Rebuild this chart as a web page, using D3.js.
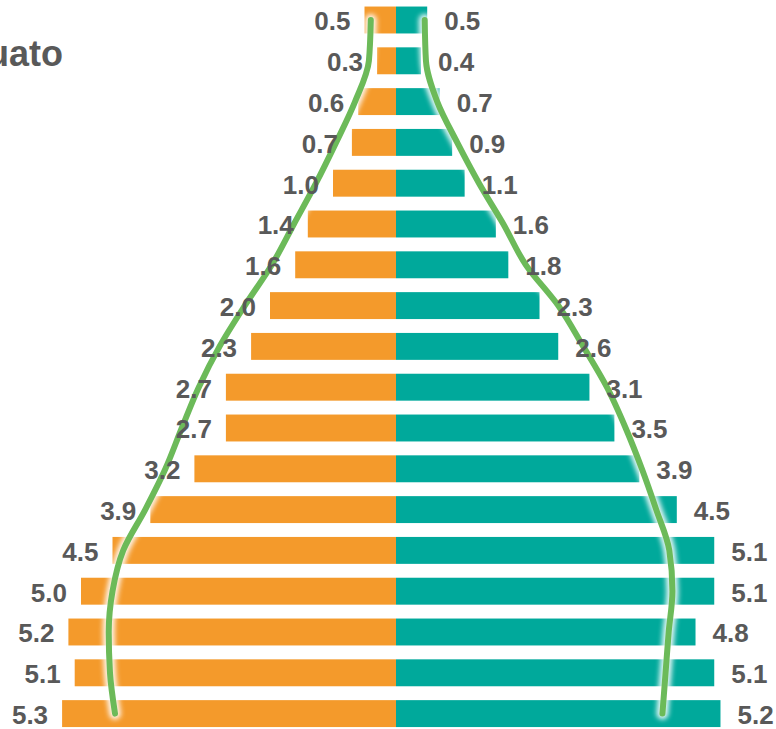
<!DOCTYPE html>
<html>
<head>
<meta charset="utf-8">
<script src="https://cdn.jsdelivr.net/npm/d3@7"></script>
<style>
  body { margin: 0; background: #fff; }
  svg { display: block; }
</style>
</head>
<body>
<svg id="chart" width="776" height="729"></svg>
<script>
// age groups, oldest on top
var ageGroups = ["85+", "80-84", "75-79", "70-74", "65-69", "60-64", "55-59", "50-54", "45-49",
                 "40-44", "35-39", "30-34", "25-29", "20-24", "15-19", "10-14", "5-9", "0-4"];
// bars (percent)
var men   = [0.5, 0.3, 0.6, 0.7, 1.0, 1.4, 1.6, 2.0, 2.3, 2.7, 2.7, 3.2, 3.9, 4.5, 5.0, 5.2, 5.1, 5.3];
var women = [0.5, 0.4, 0.7, 0.9, 1.1, 1.6, 1.8, 2.3, 2.6, 3.1, 3.5, 3.9, 4.5, 5.1, 5.1, 4.8, 5.1, 5.2];
// green outline (comparison pyramid), estimated
var menRef   = [0.40, 0.43, 0.65, 0.95, 1.27, 1.62, 1.97, 2.40, 2.80, 3.13, 3.40, 3.66, 3.98, 4.33, 4.50, 4.56, 4.54, 4.46];
var womenRef = [0.46, 0.48, 0.66, 0.98, 1.33, 1.72, 2.08, 2.60, 3.00, 3.38, 3.68, 3.94, 4.17, 4.38, 4.43, 4.37, 4.32, 4.27];

var svg = d3.select("#chart");
var cx = 396, step = 40.8;

var xLeft = d3.scaleLinear().domain([0, 6]).range([cx, cx - 6 * 63]);
var xRight = d3.scaleLinear().domain([0, 6]).range([cx, cx + 6 * 62.4]);

var y = d3.scaleBand()
    .domain(ageGroups)
    .range([20 - step / 2, 20 - step / 2 + step * ageGroups.length])
    .paddingInner(0.34)
    .paddingOuter(0.17);

var orange = "#F49A2B", teal = "#00A99B", green = "#6CBA59", labelColor = "#595959";

var defs = svg.append("defs");
var glow = defs.append("filter").attr("id", "glow")
    .attr("x", "-20%").attr("y", "-5%").attr("width", "140%").attr("height", "110%");
glow.append("feGaussianBlur").attr("stdDeviation", 2.5);

// title, cut off on the left like the source
svg.append("text")
    .attr("x", 63)
    .attr("y", 66)
    .attr("text-anchor", "end")
    .style("font-family", "Liberation Sans, Arial, sans-serif")
    .style("font-weight", "bold")
    .style("font-size", "36px")
    .attr("fill", labelColor)
    .text("Guanajuato");

svg.selectAll("rect.men")
    .data(men)
    .enter()
    .append("rect")
    .attr("class", "men")
    .attr("x", function(d) { return xLeft(d); })
    .attr("y", function(d, i) { return y(ageGroups[i]); })
    .attr("width", function(d) { return xLeft(0) - xLeft(d); })
    .attr("height", y.bandwidth())
    .attr("fill", orange);

svg.selectAll("rect.women")
    .data(women)
    .enter()
    .append("rect")
    .attr("class", "women")
    .attr("x", xRight(0))
    .attr("y", function(d, i) { return y(ageGroups[i]); })
    .attr("width", function(d) { return xRight(d) - xRight(0); })
    .attr("height", y.bandwidth())
    .attr("fill", teal);

var rowMid = function(i) { return y(ageGroups[i]) + y.bandwidth() / 2; };

var lineLeft = d3.line()
    .x(function(d) { return xLeft(d); })
    .y(function(d, i) { return rowMid(i); })
    .curve(d3.curveMonotoneY);

var lineRight = d3.line()
    .x(function(d) { return xRight(d); })
    .y(function(d, i) { return rowMid(i); })
    .curve(d3.curveMonotoneY);

[lineLeft(menRef), lineRight(womenRef)].forEach(function(p) {
  svg.append("path")
      .attr("d", p)
      .attr("fill", "none")
      .attr("stroke", "#ffffff")
      .attr("stroke-width", 12)
      .attr("stroke-linecap", "round")
      .attr("stroke-linejoin", "round")
      .attr("opacity", 0.9)
      .attr("filter", "url(#glow)");
  svg.append("path")
      .attr("d", p)
      .attr("fill", "none")
      .attr("stroke", green)
      .attr("stroke-width", 6)
      .attr("stroke-linecap", "round")
      .attr("stroke-linejoin", "round");
});

var labelStyle = function(sel) {
  sel.style("font-family", "Liberation Sans, Arial, sans-serif")
     .style("font-weight", "bold")
     .style("font-size", "26px")
     .attr("fill", labelColor)
     .attr("dy", "0.36em");
};

svg.selectAll("text.men")
    .data(men)
    .enter()
    .append("text")
    .attr("class", "men")
    .attr("x", function(d) { return xLeft(d) - 14; })
    .attr("y", function(d, i) { return rowMid(i) + 1; })
    .attr("text-anchor", "end")
    .call(labelStyle)
    .text(function(d) { return d.toFixed(1); });

svg.selectAll("text.women")
    .data(women)
    .enter()
    .append("text")
    .attr("class", "women")
    .attr("x", function(d) { return xRight(d) + 17; })
    .attr("y", function(d, i) { return rowMid(i) + 1; })
    .attr("text-anchor", "start")
    .call(labelStyle)
    .text(function(d) { return d.toFixed(1); });
</script>
</body>
</html>
